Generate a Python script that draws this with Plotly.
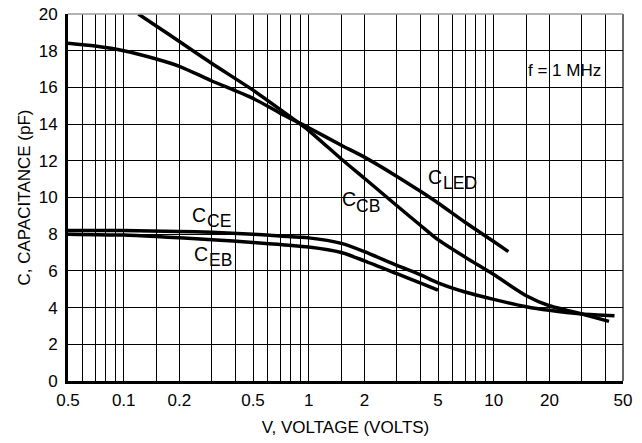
import math
import plotly.graph_objects as go

# ---------------- data ----------------
grid_x = [0.05, 0.06, 0.07, 0.08, 0.09, 0.1, 0.15, 0.2, 0.3, 0.4, 0.5, 0.6, 0.7, 0.8, 0.9,
          1, 1.5, 2, 3, 4, 5, 6, 7, 8, 9, 10, 15, 20, 30, 40, 50]
label_x_vals = [0.05, 0.1, 0.2, 0.5, 1, 2, 5, 10, 20, 50]
label_x_text = ["0.5", "0.1", "0.2", "0.5", "1", "2", "5", "10", "20", "50"]
y_ticks = [0, 2, 4, 6, 8, 10, 12, 14, 16, 18, 20]

ccb_v = [0.12, 0.15, 0.2, 0.3, 0.5, 0.7, 1.0, 1.5, 2, 3, 4, 5, 7, 10, 15, 20, 25, 30, 42]
ccb_c = [20.0, 19.35, 18.5, 17.3, 15.85, 14.8, 13.65, 12.1, 11.05, 9.55, 8.5, 7.7, 6.75, 5.8, 4.65, 4.1, 3.85, 3.65, 3.25]

cled_v = [0.05, 0.07, 0.1, 0.15, 0.2, 0.3, 0.5, 0.7, 1.0, 1.5, 2, 3, 4, 5, 7, 10, 12]
cled_c = [18.4, 18.25, 18.0, 17.55, 17.15, 16.35, 15.4, 14.6, 13.8, 12.85, 12.2, 11.15, 10.35, 9.7, 8.65, 7.6, 7.05]

cce_v = [0.05, 0.1, 0.2, 0.3, 0.5, 0.7, 1.0, 1.5, 2, 3, 4, 5, 7, 10, 15, 20, 30, 45]
cce_c = [8.2, 8.2, 8.15, 8.1, 8.0, 7.9, 7.8, 7.5, 7.05, 6.3, 5.8, 5.35, 4.85, 4.45, 4.05, 3.85, 3.65, 3.55]

ceb_v = [0.05, 0.1, 0.15, 0.2, 0.3, 0.5, 1.0, 1.5, 2, 3, 4, 5]
ceb_c = [8.0, 7.95, 7.87, 7.8, 7.7, 7.55, 7.3, 7.0, 6.55, 5.85, 5.35, 4.95]

series = [("C_CB", ccb_v, ccb_c), ("C_LED", cled_v, cled_c),
          ("C_CE", cce_v, cce_c), ("C_EB", ceb_v, ceb_c)]

# curve labels: main letter, subscript, left pixel, centre pixel (main), white box pixel
labels = [
    ("C", "CE", 190, 214.5, (187, 202, 232, 229)),
    ("C", "EB", 192, 253.5, (188, 243, 233, 271)),
    ("C", "CB", 340, 199.0, (336, 182, 382, 216)),
    ("C", "LED", 426, 176.5, (423, 161, 477, 195)),
]

# ---------------- layout geometry ----------------
W, H = 642, 443
L, R, T, B = 68, 623, 14, 381


def px(xp):
    return (xp - L) / (R - L)


def py(yp):
    return (B - yp) / (B - T)


FONT = "Liberation Sans, Arial, Helvetica, sans-serif"

fig = go.Figure()
for name, v, c in series:
    fig.add_trace(go.Scatter(x=v, y=c, mode="lines", name=name,
                             line=dict(color="black", width=3.5, shape="spline", smoothing=0.7),
                             showlegend=False, hoverinfo="skip"))

ticktext = [label_x_text[label_x_vals.index(v)] if v in label_x_vals else "" for v in grid_x]

shapes = []
annotations = []

for main, sub, lx, cy, (x0, y0, x1, y1) in labels:
    shapes.append(dict(type="rect", xref="paper", yref="paper", layer="between",
                       x0=px(x0), x1=px(x1), y0=py(y1), y1=py(y0),
                       fillcolor="white", line=dict(width=0)))
    annotations.append(dict(xref="paper", yref="paper", x=px(lx), y=py(cy),
                            xanchor="left", yanchor="middle", showarrow=False,
                            text=main, font=dict(family=FONT, size=19.5, color="black")))
    annotations.append(dict(xref="paper", yref="paper", x=px(lx + 14.5), y=py(cy + 6.5),
                            xanchor="left", yanchor="middle", showarrow=False,
                            text=sub, font=dict(family=FONT, size=17.5, color="black")))

# f = 1 MHz box
shapes.append(dict(type="rect", xref="paper", yref="paper", layer="between",
                   x0=px(497), x1=px(614), y0=py(87), y1=py(53),
                   fillcolor="white", line=dict(width=0)))
annotations.append(dict(xref="paper", yref="paper", x=px(564), y=py(70.5),
                        xanchor="center", yanchor="middle", showarrow=False,
                        text="f = 1 MHz", font=dict(family=FONT, size=17, color="black")))

# frame: right (black thin) and top (grey thin)
shapes.append(dict(type="line", xref="paper", yref="paper", x0=1, x1=1, y0=0, y1=1,
                   line=dict(color="black", width=1.2), layer="above"))
shapes.append(dict(type="line", xref="paper", yref="paper", x0=0, x1=1, y0=1, y1=1,
                   line=dict(color="#9a9a9a", width=1.5), layer="above"))

fig.update_layout(
    width=W, height=H,
    margin=dict(l=L, r=W - R, t=T, b=H - B, pad=0),
    paper_bgcolor="white", plot_bgcolor="white",
    font=dict(family=FONT, size=17, color="black"),
    shapes=shapes, annotations=annotations,
    xaxis=dict(type="log", range=[math.log10(0.05), math.log10(50)],
               tickmode="array", tickvals=grid_x, ticktext=ticktext,
               showgrid=True, gridcolor="black", gridwidth=1,
               showline=True, linecolor="black", linewidth=3,
               ticks="", zeroline=False, ticklabelstandoff=2, automargin=False,
               tickfont=dict(size=17),
               title=dict(text="V, VOLTAGE (VOLTS)", font=dict(size=17), standoff=12)),
    yaxis=dict(range=[0, 20], tickmode="array", tickvals=y_ticks,
               showgrid=True, gridcolor="black", gridwidth=1,
               showline=True, linecolor="black", linewidth=3,
               ticks="", zeroline=False, ticklabelstandoff=4, automargin=False,
               tickfont=dict(size=17),
               title=dict(text="C, CAPACITANCE (pF)", font=dict(size=17), standoff=4)),
)

fig.write_html("out.html")
